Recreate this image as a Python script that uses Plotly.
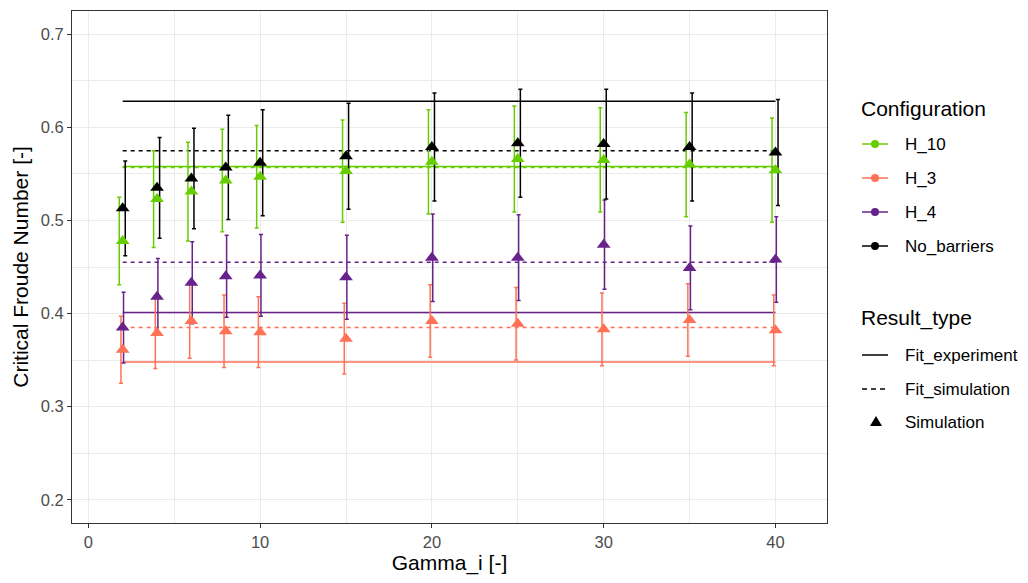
import plotly.graph_objects as go

# ---------------- data ----------------
gamma = [2, 4, 6, 8, 10, 15, 20, 25, 30, 35, 40]

configs = ["H_10", "H_3", "H_4", "No_barriers"]

h10_sim = [0.478, 0.523, 0.531, 0.543, 0.547, 0.553, 0.563, 0.566, 0.565, 0.560, 0.554]
h10_err = [0.047, 0.052, 0.053, 0.055, 0.055, 0.055, 0.056, 0.057, 0.056, 0.056, 0.056]

h3_sim = [0.361, 0.379, 0.392, 0.381, 0.380, 0.373, 0.392, 0.389, 0.383, 0.393, 0.382]
h3_err = [0.036, 0.038, 0.040, 0.039, 0.038, 0.038, 0.039, 0.039, 0.039, 0.039, 0.038]

h4_sim = [0.385, 0.418, 0.433, 0.440, 0.441, 0.439, 0.460, 0.460, 0.474, 0.449, 0.458]
h4_err = [0.038, 0.041, 0.044, 0.044, 0.044, 0.045, 0.047, 0.046, 0.048, 0.045, 0.046]

nb_sim = [0.513, 0.535, 0.545, 0.557, 0.562, 0.569, 0.579, 0.583, 0.582, 0.579, 0.573]
nb_err = [0.051, 0.054, 0.054, 0.056, 0.057, 0.057, 0.058, 0.058, 0.059, 0.058, 0.057]

fit_experiment = [0.558, 0.348, 0.401, 0.628]
fit_simulation = [0.557, 0.385, 0.455, 0.575]
fit_x = [2, 40]

result_types = ["Fit_experiment", "Fit_simulation", "Simulation"]

x_ticks = [0, 10, 20, 30, 40]
y_ticks = [0.2, 0.3, 0.4, 0.5, 0.6, 0.7]

# ---------------- styles ----------------
colors = {"H_10": "#66CD00", "H_3": "#FF7256", "H_4": "#68228B", "No_barriers": "#000000"}
err_dx = {"H_10": -0.2, "H_3": -0.1, "H_4": 0.05, "No_barriers": 0.15}
sim = {"H_10": h10_sim, "H_3": h3_sim, "H_4": h4_sim, "No_barriers": nb_sim}
err = {"H_10": h10_err, "H_3": h3_err, "H_4": h4_err, "No_barriers": nb_err}

FONT = "Liberation Sans, Arial, sans-serif"

fig = go.Figure()

# fit lines
for i, c in enumerate(configs):
    fig.add_trace(go.Scatter(x=fit_x, y=[fit_experiment[i]] * 2, mode="lines",
                             line=dict(color=colors[c], width=1.5),
                             showlegend=False, hoverinfo="skip"))
    fig.add_trace(go.Scatter(x=fit_x, y=[fit_simulation[i]] * 2, mode="lines",
                             line=dict(color=colors[c], width=1.5, dash="4px,4px"),
                             showlegend=False, hoverinfo="skip"))

# error bars (slightly dodged)
for c in configs:
    fig.add_trace(go.Scatter(x=[g + err_dx[c] for g in gamma], y=sim[c], mode="markers",
                             marker=dict(size=1, opacity=0),
                             error_y=dict(type="data", array=err[c], visible=True,
                                          color=colors[c], thickness=1.5, width=2),
                             showlegend=False, hoverinfo="skip"))

# simulation points
for c in configs:
    fig.add_trace(go.Scatter(x=gamma, y=sim[c], mode="markers", name=c,
                             marker=dict(symbol="triangle-up", size=12, color=colors[c]),
                             showlegend=False))

# ---------------- layout ----------------
# page coordinates (the html body adds an 8px margin around the figure)
OFF = 8
L, R, T, B = 72 - OFF, 827 - OFF, 11 - OFF, 523 - OFF
W, H = 1028 - OFF, 583 - OFF


def px(xp):
    return (xp - OFF - L) / (R - L)


def py(yp):
    return (B - (yp - OFF)) / (B - T)


axis_common = dict(
    showline=True, linecolor="#333333", linewidth=1.1, mirror=True,
    ticks="outside", ticklen=4, tickcolor="#333333", tickwidth=1.1,
    tickfont=dict(family=FONT, size=16.5, color="#4D4D4D"),
    showgrid=True, gridcolor="#EBEBEB", gridwidth=1.2, zeroline=False,
    automargin=False,
)

fig.update_layout(
    width=W, height=H,
    margin=dict(l=L, r=W - R, t=T, b=H - B, autoexpand=False),
    plot_bgcolor="white", paper_bgcolor="white",
    showlegend=False,
    font=dict(family=FONT),
    xaxis=dict(range=[-0.95, 43.0], tickvals=x_ticks, ticktext=[str(v) for v in x_ticks],
               minor=dict(dtick=5, tick0=0, showgrid=True, gridcolor="#EBEBEB", gridwidth=0.7, ticks=""),
               title=dict(text="Gamma_i [-]", font=dict(family=FONT, size=21, color="#000000"), standoff=4),
               **axis_common),
    yaxis=dict(range=[0.175, 0.725], tickvals=y_ticks, ticktext=["%.1f" % v for v in y_ticks],
               minor=dict(dtick=0.05, tick0=0.2, showgrid=True, gridcolor="#EBEBEB", gridwidth=0.7, ticks=""),
               title=dict(text="Critical Froude Number [-]", font=dict(family=FONT, size=21, color="#000000"), standoff=6),
               **axis_common),
)

# ---------------- manual legend ----------------
shapes = []
annotations = []

annotations.append(dict(x=px(859), y=py(108), xref="paper", yref="paper", text="Configuration",
                        showarrow=False, xanchor="left", yanchor="middle",
                        font=dict(family=FONT, size=21, color="#000000")))
conf_rows = [144, 178, 212, 246]
for c, yy in zip(configs, conf_rows):
    shapes.append(dict(type="line", xref="paper", yref="paper", x0=px(862), x1=px(888),
                       y0=py(yy), y1=py(yy), line=dict(color=colors[c], width=1.5)))
    shapes.append(dict(type="circle", xref="paper", yref="paper", x0=px(871), x1=px(879),
                       y0=py(yy + 4), y1=py(yy - 4), fillcolor=colors[c], line=dict(width=0)))
    annotations.append(dict(x=px(903), y=py(yy), xref="paper", yref="paper", text=c,
                            showarrow=False, xanchor="left", yanchor="middle",
                            font=dict(family=FONT, size=17, color="#000000")))

annotations.append(dict(x=px(859), y=py(318), xref="paper", yref="paper", text="Result_type",
                        showarrow=False, xanchor="left", yanchor="middle",
                        font=dict(family=FONT, size=21, color="#000000")))
res_rows = [355, 389, 422]
shapes.append(dict(type="line", xref="paper", yref="paper", x0=px(862), x1=px(888),
                   y0=py(res_rows[0]), y1=py(res_rows[0]), line=dict(color="#000000", width=1.5)))
shapes.append(dict(type="line", xref="paper", yref="paper", x0=px(862), x1=px(888),
                   y0=py(res_rows[1]), y1=py(res_rows[1]),
                   line=dict(color="#000000", width=1.5, dash="5px,4px")))
tx, ty = 876, res_rows[2]
shapes.append(dict(type="path", xref="paper", yref="paper",
                   path="M %f %f L %f %f L %f %f Z" % (px(tx - 6), py(ty + 4), px(tx + 6), py(ty + 4),
                                                     px(tx), py(ty - 6)),
                   fillcolor="#000000", line=dict(width=0)))
for r, yy in zip(result_types, res_rows):
    annotations.append(dict(x=px(903), y=py(yy), xref="paper", yref="paper", text=r,
                            showarrow=False, xanchor="left", yanchor="middle",
                            font=dict(family=FONT, size=17, color="#000000")))

fig.update_layout(shapes=shapes, annotations=annotations)

fig.write_html("out.html")
